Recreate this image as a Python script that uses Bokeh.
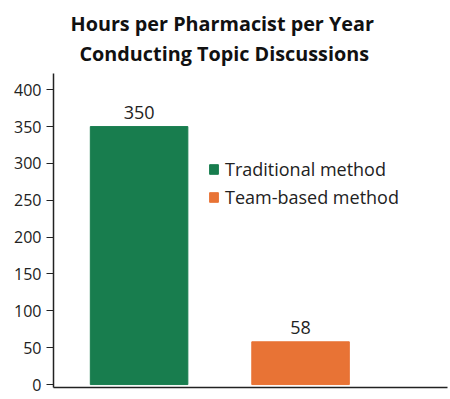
from bokeh.plotting import figure
from bokeh.models import ColumnDataSource, Legend, LegendItem, Title, Range1d, FixedTicker, LabelSet
from bokeh.core.properties import value
from bokeh.embed import file_html
from bokeh.resources import INLINE

methods = ["Traditional method", "Team-based method"]
hours = [350, 58]
colors = ["#187D4E", "#E87335"]
y_ticks = [0, 50, 100, 150, 200, 250, 300, 350, 400]

FONT = "Open Sans"

xs = list(range(len(methods)))
src = ColumnDataSource(dict(x=xs, top=hours, method=methods, color=colors,
                            label=[str(h) for h in hours]))

p = figure(width=450, height=399, output_backend="svg", toolbar_location=None,
           x_range=Range1d(-0.53, 1.91), y_range=Range1d(-4, 422),
           min_border_left=53, min_border_right=3, min_border_top=73, min_border_bottom=12)

p.add_layout(Title(text="Conducting Topic Discussions", align="left",
                   text_font=FONT, text_font_style="bold", text_font_size="19.8px",
                   text_color="#111111", offset=26, standoff=14), "above")
p.add_layout(Title(text="Hours per Pharmacist per Year", align="left",
                   text_font=FONT, text_font_style="bold", text_font_size="19.8px",
                   text_color="#111111", offset=17, standoff=-13), "above")

r = p.vbar(x="x", top="top", bottom=0, width=0.604, color="color", source=src)

labels = LabelSet(x="x", y="top", text="label", source=src, text_align="center",
                  y_offset=8, text_font=value(FONT), text_font_size=value("18px"),
                  text_color="#222222")
p.add_layout(labels)

legend = Legend(items=[LegendItem(label=m, renderers=[r], index=i) for i, m in enumerate(methods)],
                location=(155, 178), border_line_color=None, background_fill_alpha=0,
                label_text_font=FONT, label_text_font_size="18px", label_text_color="#222222",
                glyph_width=11, glyph_height=12, label_standoff=6, spacing=4, padding=0, margin=0)
p.add_layout(legend)

p.grid.visible = False
p.outline_line_color = None
p.background_fill_color = "white"

p.yaxis.ticker = FixedTicker(ticks=y_ticks)
p.yaxis.axis_line_color = "#222222"
p.yaxis.axis_line_width = 1.5
p.yaxis.major_tick_line_color = "#222222"
p.yaxis.major_tick_in = 0
p.yaxis.major_tick_out = 7
p.yaxis.minor_tick_line_color = None
p.yaxis.major_label_text_font = FONT
p.yaxis.major_label_text_font_size = "16px"
p.yaxis.major_label_text_color = "#222222"
p.yaxis.major_label_standoff = 5

p.xaxis.ticker = FixedTicker(ticks=[])
p.xaxis.axis_line_color = "#222222"
p.xaxis.axis_line_width = 1.5
p.xaxis.major_tick_out = 0
p.xaxis.major_tick_in = 0
p.xaxis.minor_tick_line_color = None
p.xaxis.major_label_text_font_size = "0px"
p.xaxis.major_label_standoff = 0

open("out.html", "w").write(file_html(p, INLINE))
